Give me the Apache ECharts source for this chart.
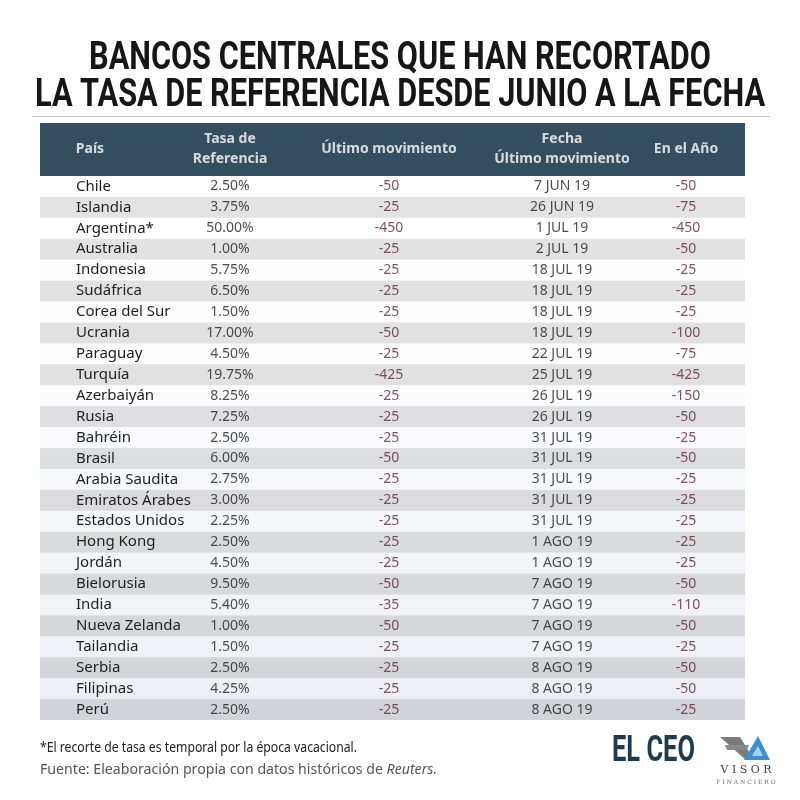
<!DOCTYPE html>
<html>
<head>
<meta charset="utf-8">
<script src="https://cdn.jsdelivr.net/npm/echarts@6/dist/echarts.min.js"></script>
<style>html,body{margin:0;padding:0;background:#fff}#c{width:800px;height:800px}</style>
</head>
<body>
<div id="c"></div>
<script>
// ---- DATA ----
const encabezados = ['País', 'Tasa de\nReferencia', 'Último movimiento', 'Fecha\nÚltimo movimiento', 'En el Año'];
const paises = ['Chile','Islandia','Argentina*','Australia','Indonesia','Sudáfrica','Corea del Sur','Ucrania','Paraguay','Turquía','Azerbaiyán','Rusia','Bahréin','Brasil','Arabia Saudita','Emiratos Árabes','Estados Unidos','Hong Kong','Jordán','Bielorusia','India','Nueva Zelanda','Tailandia','Serbia','Filipinas','Perú'];
const tasas = [2.50, 3.75, 50.00, 1.00, 5.75, 6.50, 1.50, 17.00, 4.50, 19.75, 8.25, 7.25, 2.50, 6.00, 2.75, 3.00, 2.25, 2.50, 4.50, 9.50, 5.40, 1.00, 1.50, 2.50, 4.25, 2.50];
const ultimoMov = [-50, -25, -450, -25, -25, -25, -25, -50, -25, -425, -25, -25, -25, -50, -25, -25, -25, -25, -25, -50, -35, -50, -25, -25, -25, -25];
const fechas = ['7 JUN 19','26 JUN 19','1 JUL 19','2 JUL 19','18 JUL 19','18 JUL 19','18 JUL 19','18 JUL 19','22 JUL 19','25 JUL 19','26 JUL 19','26 JUL 19','31 JUL 19','31 JUL 19','31 JUL 19','31 JUL 19','31 JUL 19','1 AGO 19','1 AGO 19','7 AGO 19','7 AGO 19','7 AGO 19','7 AGO 19','8 AGO 19','8 AGO 19','8 AGO 19'];
const enElAnio = [-50, -75, -450, -50, -25, -25, -25, -100, -75, -425, -150, -50, -25, -50, -25, -25, -25, -25, -25, -50, -110, -50, -25, -50, -50, -25];
const titulo1 = 'BANCOS CENTRALES QUE HAN RECORTADO';
const titulo2 = 'LA TASA DE REFERENCIA DESDE JUNIO A LA FECHA';
const nota = '*El recorte de tasa es temporal por la época vacacional.';
const fuente = 'Fuente: Eleaboración propia con datos históricos de ';
const fuenteItal = 'Reuters.';

// ---- LAYOUT (not data) ----
const colX = [50, 190, 349, 522, 646]; // column centre offsets inside the table (0..705)
const FONT = 'Noto Sans';
const textColor = '#1e1e1e';
const negColor = '#5e2838';

function measure(text, font) {
  const c = document.createElement('canvas').getContext('2d');
  c.font = font;
  return c.measureText(text).width;
}
const titleFont = 'bold 39px Roboto';
const tScale = 730 / measure(titulo2, titleFont);
const footFont = '14px "Noto Sans"';
const fScale1 = 317 / measure(nota, footFont);
const fScale2 = 397 / (measure(fuente, footFont) + measure(fuenteItal, 'italic 14px "Noto Sans"'));
const ceoScale = 83 / measure('EL CEO', 'bold 37px Roboto');

function colSeries(idx, texts, color) {
  return {
    type: 'scatter', xAxisIndex: 1, yAxisIndex: 1,
    symbolSize: 1, itemStyle: { color: 'rgba(0,0,0,0)' }, silent: true,
    data: paises.map((p, i) => [colX[idx], p, texts[i]]),
    label: { show: true, position: 'inside', formatter: d => d.value[2],
      color: color, fontSize: 14, fontFamily: FONT }
  };
}

const chart = echarts.init(document.getElementById('c'));
chart.setOption({
  animation: false,
  backgroundColor: '#fff',
  grid: [
    { left: 40, right: 55, top: 123, height: 53, show: true, backgroundColor: '#344e60', borderWidth: 0 },
    { left: 40, right: 55, top: 176, bottom: 80, show: true, borderWidth: 0,
      backgroundColor: new echarts.graphic.LinearGradient(0, 0, 0, 1, [
        { offset: 0, color: '#ffffff' }, { offset: 0.35, color: '#fdfdfe' }, { offset: 1, color: '#ebeef3' }]) }
  ],
  xAxis: [
    { type: 'value', gridIndex: 0, min: 0, max: 705, show: false },
    { type: 'value', gridIndex: 1, min: 0, max: 705, show: false }
  ],
  yAxis: [
    { type: 'value', gridIndex: 0, min: 0, max: 1, show: false },
    { type: 'category', gridIndex: 1, data: paises, inverse: true,
      axisLine: { show: false }, axisTick: { show: false }, splitLine: { show: false },
      axisLabel: { align: 'left', margin: -36, fontSize: 15, color: textColor, fontFamily: FONT },
      splitArea: { show: true, areaStyle: { color: ['rgba(0,0,0,0)', 'rgba(0,0,0,0.11)'] } } }
  ],
  series: [
    { type: 'scatter', xAxisIndex: 0, yAxisIndex: 0, symbolSize: 1, silent: true,
      itemStyle: { color: 'rgba(0,0,0,0)' },
      data: encabezados.map((h, i) => [colX[i], 0.5, h]),
      label: { show: true, position: 'inside', formatter: d => d.value[2], color: '#fff',
        fontSize: 14, fontWeight: 'bold', fontFamily: FONT, lineHeight: 20, align: 'center' } },
    colSeries(1, tasas.map(v => v.toFixed(2) + '%'), textColor),
    colSeries(2, ultimoMov.map(v => String(v)), negColor),
    colSeries(3, fechas, textColor),
    colSeries(4, enElAnio.map(v => String(v)), negColor)
  ],
  graphic: [
    { type: 'text', x: 400, y: 59, scaleX: tScale, style: { text: titulo1, fontSize: 39, fontWeight: 'bold', fontFamily: 'Roboto', fill: '#161616', textAlign: 'center', textVerticalAlign: 'middle' } },
    { type: 'text', x: 400, y: 96, scaleX: tScale, style: { text: titulo2, fontSize: 39, fontWeight: 'bold', fontFamily: 'Roboto', fill: '#161616', textAlign: 'center', textVerticalAlign: 'middle' } },
    { type: 'line', shape: { x1: 32, y1: 116.5, x2: 770, y2: 116.5 }, style: { stroke: '#c4c4c4', lineWidth: 1 } },
    { type: 'text', x: 40, y: 748, scaleX: fScale1, style: { text: nota, fontSize: 14, fontFamily: FONT, fill: '#222', textVerticalAlign: 'middle' } },
    { type: 'text', x: 40, y: 770, scaleX: fScale2, style: { text: '{n|' + fuente + '}{i|' + fuenteItal + '}', fontSize: 14, fontFamily: FONT, fill: '#555', textVerticalAlign: 'middle',
        rich: { n: { fontSize: 14, fontFamily: FONT, fill: '#555' }, i: { fontSize: 14, fontFamily: FONT, fontStyle: 'italic', fill: '#555' } } } },
    { type: 'text', x: 612, y: 752, scaleX: ceoScale, style: { text: 'EL CEO', fontSize: 37, fontWeight: 'bold', fontFamily: 'Roboto', fill: '#1d3a4e', textVerticalAlign: 'middle' } },
    { type: 'polygon', shape: { points: [[720,737],[740,737],[754,760],[746,760]] }, style: { fill: '#7a7a7a' } },
    { type: 'polygon', shape: { points: [[725,745],[749,745],[747,750],[727,750]] }, style: { fill: '#8a8a8a' } },
    { type: 'polygon', shape: { points: [[758,736],[770,760],[744,760]] }, style: { fill: '#3b8fd2' } },
    { type: 'polygon', shape: { points: [[758,746],[763,756],[752,756]] }, style: { fill: '#a8d4f3' } },
    { type: 'text', x: 746, y: 770, style: { text: 'V I S O R', fontSize: 11, fontFamily: 'DejaVu Serif', fill: '#444', textAlign: 'center', textVerticalAlign: 'middle' } },
    { type: 'text', x: 746, y: 782, style: { text: 'F I N A N C I E R O', fontSize: 6, fontFamily: 'DejaVu Serif', fill: '#666', textAlign: 'center', textVerticalAlign: 'middle' } }
  ]
});
</script>
</body>
</html>
